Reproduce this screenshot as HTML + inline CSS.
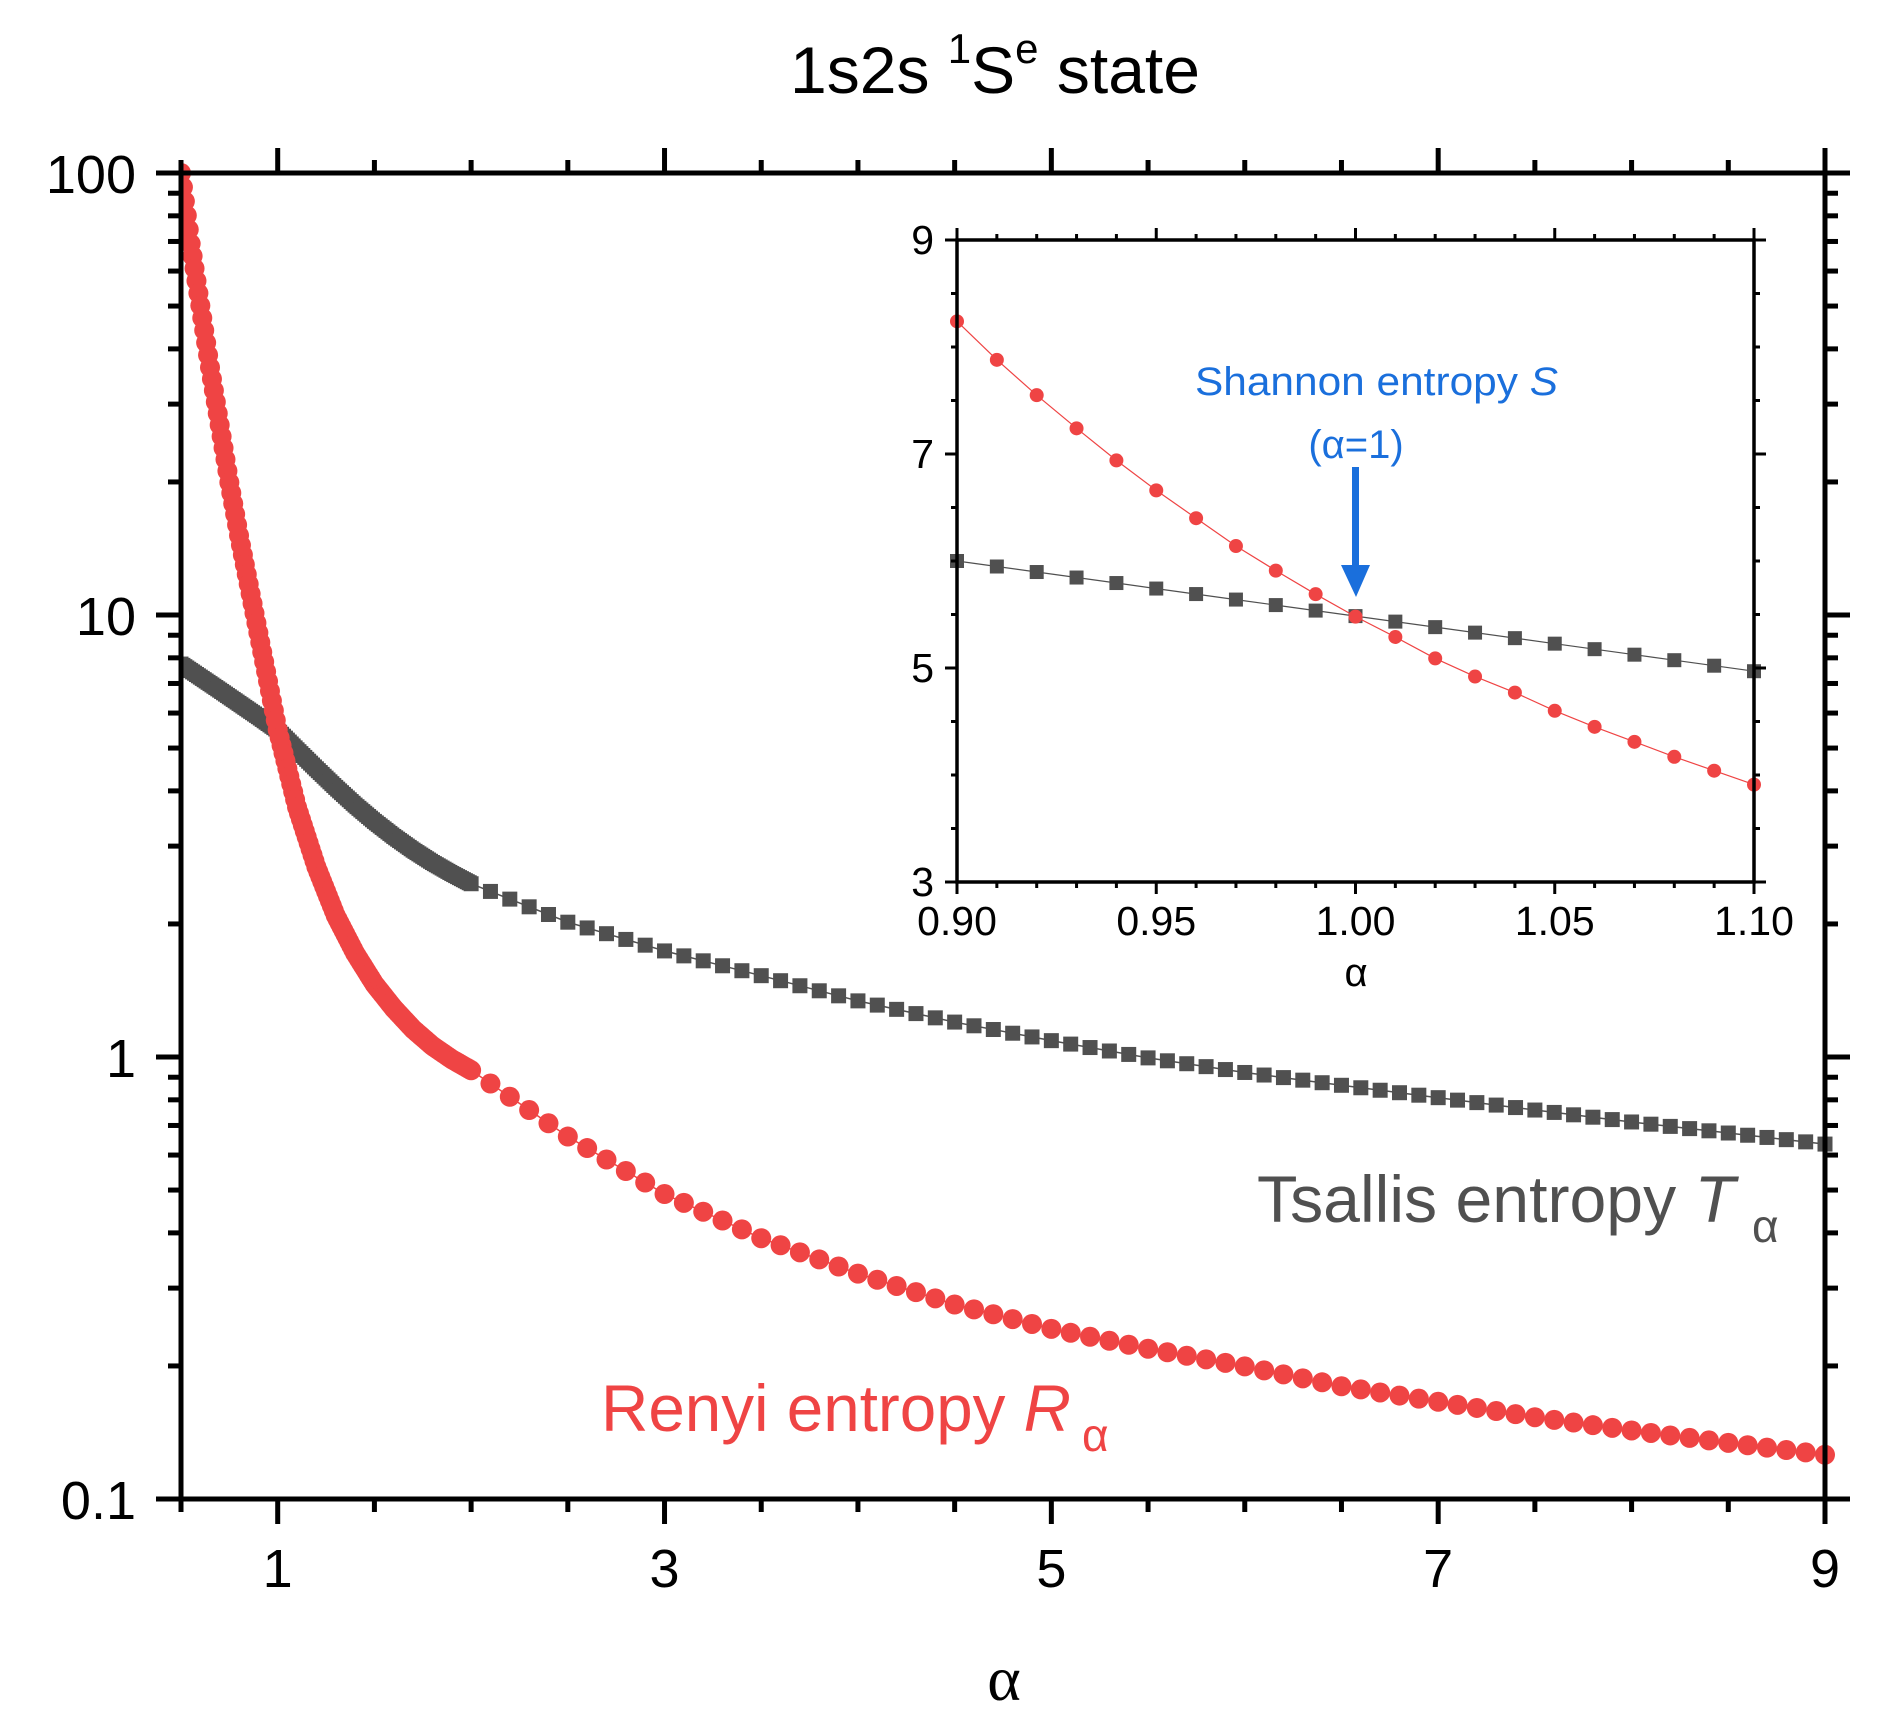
<!DOCTYPE html>
<html><head><meta charset="utf-8"><style>
html,body{margin:0;padding:0;background:#fff;}
svg{display:block;font-family:"Liberation Sans",Arial,sans-serif;}
</style></head><body>
<svg id="s" width="1880" height="1728" viewBox="0 0 1880 1728" xmlns="http://www.w3.org/2000/svg">
<rect width="1880" height="1728" fill="#fff"/>
<g id="g"></g>
<text x="995" y="93" font-size="66" text-anchor="middle" fill="#000">1s2s <tspan font-size="42" dy="-30">1</tspan><tspan dy="30">S</tspan><tspan font-size="42" dy="-30">e</tspan><tspan dy="30"> state</tspan></text>
<text x="1004" y="1700" font-size="64" font-family="Liberation Serif,serif" text-anchor="middle">α</text>
<text x="1257" y="1222" font-size="66" fill="#505050" textLength="478" lengthAdjust="spacingAndGlyphs">Tsallis entropy <tspan font-style="italic">T</tspan></text>
<text x="1752" y="1242" font-size="46" fill="#505050">α</text>
<text x="601" y="1431" font-size="66" fill="#ef4444" textLength="470" lengthAdjust="spacingAndGlyphs">Renyi entropy <tspan font-style="italic">R</tspan></text>
<text x="1082" y="1451" font-size="46" fill="#ef4444">α</text>
<text x="1195" y="395" font-size="40" fill="#1a6fdc" textLength="363" lengthAdjust="spacingAndGlyphs">Shannon entropy <tspan font-style="italic">S</tspan></text>
<text x="1356" y="458" font-size="40" fill="#1a6fdc" text-anchor="middle">(α=1)</text>
<rect x="1352" y="467" width="7" height="104" fill="#1a6fdc"/>
<polygon points="1341,565 1370,565 1356,597" fill="#1a6fdc"/>
<text x="1356" y="986" font-size="40" text-anchor="middle">α</text>
</svg>
<script>
(function(){
var NS="http://www.w3.org/2000/svg",g=document.getElementById('g');
function el(t,a){var e=document.createElementNS(NS,t);for(var k in a)e.setAttribute(k,a[k]);g.appendChild(e);return e;}
function txt(x,y,s,fs,anc){var e=el('text',{x:x,y:y,'font-size':fs,'text-anchor':anc||'middle',fill:'#000'});e.textContent=s;}
var L=181,R=1825,T=173,B=1499;
function X(a){return L+(a-0.5)/8.5*(R-L);}
function Y(v){return T+(2-Math.log10(v))*(B-T)/3;}
function interp(pts,a){for(var i=0;i<pts.length-1;i++){if(a<=pts[i+1][0]){var t=(a-pts[i][0])/(pts[i+1][0]-pts[i][0]);return pts[i][1]+t*(pts[i+1][1]-pts[i][1]);}}return pts[pts.length-1][1];}
var red=[[0.5,2.0],[0.55,1.84],[0.6,1.70],[0.65,1.56],[0.7,1.43],[0.75,1.30],[0.8,1.18],[0.85,1.07],[0.9,0.96],[0.95,0.85],[1.0,0.74],[1.1,0.565],[1.2,0.43],[1.3,0.32],[1.4,0.235],[1.5,0.165],[1.6,0.11],[1.7,0.063],[1.8,0.025],[1.9,-0.005],[2.0,-0.03],[2.5,-0.18],[3,-0.31],[3.5,-0.41],[4,-0.49],[4.5,-0.56],[5,-0.615],[5.5,-0.66],[6,-0.70],[6.5,-0.745],[7,-0.78],[7.5,-0.815],[8,-0.845],[8.5,-0.873],[9,-0.90]];
var gry=[[0.5,0.889],[0.7,0.83],[0.9,0.77],[1.0,0.739],[1.1,0.695],[1.2,0.652],[1.3,0.61],[1.4,0.57],[1.5,0.533],[1.6,0.499],[1.7,0.468],[1.8,0.44],[1.9,0.415],[2.0,0.392],[2.5,0.305],[3,0.24],[3.5,0.184],[4,0.127],[4.5,0.079],[5,0.037],[5.5,-0.002],[6,-0.035],[6.5,-0.064],[7,-0.092],[7.5,-0.12],[8,-0.147],[8.5,-0.172],[9,-0.197]];
function alphas(){var r=[];for(var i=0;i<=150;i++)r.push(0.5+i*0.01);for(var j=1;j<=70;j++)r.push(2+j*0.1);return r;}
var A=alphas();
function series(pts,col,sq){var d='';A.forEach(function(a,i){var x=X(a),y=Y(Math.pow(10,interp(pts,a)));d+=(i?'L':'M')+x.toFixed(1)+' '+y.toFixed(1);});
 el('path',{d:d,fill:'none',stroke:col,'stroke-width':1.5});
 A.forEach(function(a){var x=X(a),y=Y(Math.pow(10,interp(pts,a)));if(y<T-2)return;
  if(sq)el('rect',{x:x-7.5,y:y-7.5,width:15,height:15,fill:col});else el('circle',{cx:x,cy:y,r:10,fill:col});});}
var cp=el('clipPath',{id:'cm'});var cr=document.createElementNS(NS,'rect');cr.setAttribute('x',L);cr.setAttribute('y',T-12);cr.setAttribute('width',R-L+12);cr.setAttribute('height',B-T+12);cp.appendChild(cr);
var gs=g;var sg=el('g',{'clip-path':'url(#cm)'});g=sg;
series(gry,'#505050',true);series(red,'#ef4444',false);g=gs;
el('rect',{x:L,y:T,width:R-L,height:B-T,fill:'none',stroke:'#000','stroke-width':5});
for(var k=0;k<=17;k++){var a=0.5+k*0.5,x=X(a),maj=(a%2===1);var len=maj?25:13;
 el('line',{x1:x,y1:B,x2:x,y2:B+len,stroke:'#000','stroke-width':5});
 el('line',{x1:x,y1:T,x2:x,y2:T-len,stroke:'#000','stroke-width':5});
 if(maj)txt(x,1587,String(a),54);}
var labs={'-1':'0.1','0':'1','1':'10','2':'100'};
for(var d=-1;d<=2;d++){for(var m=1;m<=9;m++){if(d==2&&m>1)break;var y=Y(m*Math.pow(10,d));var len=m==1?25:13;
 el('line',{x1:L,y1:y,x2:L-len,y2:y,stroke:'#000','stroke-width':5});
 el('line',{x1:R,y1:y,x2:R+len,y2:y,stroke:'#000','stroke-width':5});
 if(m==1)txt(136,y+20,labs[d],54,'end');}}
var iL=957,iR=1754,iT=240,iB=882;
function IX(a){return iL+(a-0.9)/0.2*(iR-iL);}
function IY(v){return iB-(v-3)/6*(iB-iT);}
el('rect',{x:iL,y:iT,width:iR-iL,height:iB-iT,fill:'#fff',stroke:'none'});
var ir=[8.24,7.88,7.55,7.24,6.94,6.66,6.40,6.14,5.91,5.69,5.48,5.29,5.09,4.92,4.77,4.60,4.45,4.31,4.17,4.04,3.91];
var ig=[];for(var i=0;i<=20;i++)ig.push(6.0-i*0.0515);
function iser(v,col,sq){var d='';v.forEach(function(y,i){d+=(i?'L':'M')+IX(0.9+i*0.01).toFixed(1)+' '+IY(y).toFixed(1);});
 el('path',{d:d,fill:'none',stroke:col,'stroke-width':1.2});
 v.forEach(function(y,i){var x=IX(0.9+i*0.01),yy=IY(y);if(sq)el('rect',{x:x-7,y:yy-7,width:14,height:14,fill:col});else el('circle',{cx:x,cy:yy,r:7,fill:col});});}
iser(ig,'#505050',true);iser(ir,'#ef4444',false);
el('rect',{x:iL,y:iT,width:iR-iL,height:iB-iT,fill:'none',stroke:'#000','stroke-width':3.5});
for(var i=0;i<=20;i++){var x=IX(0.9+i*0.01),maj=(i%5==0),len=maj?12:6;
 el('line',{x1:x,y1:iB,x2:x,y2:iB+len,stroke:'#000','stroke-width':3});
 el('line',{x1:x,y1:iT,x2:x,y2:iT-len,stroke:'#000','stroke-width':3});
 if(maj)txt(x,935,(0.9+i*0.01).toFixed(2),41);}
for(var i=0;i<=12;i++){var v=3+i*0.5,y=IY(v),maj=(i%4==0),len=maj?12:6;
 el('line',{x1:iL,y1:y,x2:iL-len,y2:y,stroke:'#000','stroke-width':3});
 el('line',{x1:iR,y1:y,x2:iR+len,y2:y,stroke:'#000','stroke-width':3});
 if(maj)txt(934,y+14,String(v),41,'end');}
})();
</script>
</body></html>
